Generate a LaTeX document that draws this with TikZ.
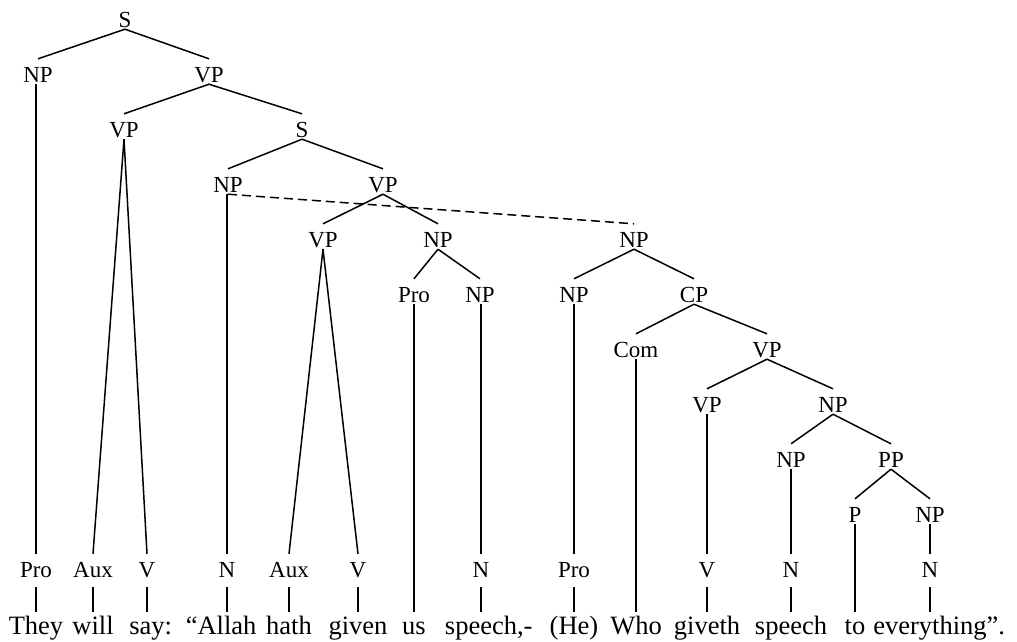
\documentclass[tikz,border=0pt]{standalone}
\usepackage{fontspec}
\setmainfont{Liberation Serif}
\begin{document}
\begin{tikzpicture}[x=1pt,y=-1pt,
  lab/.style={inner sep=0pt, anchor=base, text height=23pt, text depth=2pt, font=\fontsize{23}{27}\selectfont},
  pre/.style={lab, text depth=10pt},
  word/.style={inner sep=0pt, anchor=base, text height=22pt, text depth=0pt, font=\fontsize{26.5}{30}\selectfont},
  branch/.style={draw, line width=1.5pt},
  trace/.style={draw, line width=1.5pt, dash pattern=on 9pt off 5pt}]
\useasboundingbox (0,0) rectangle (1017,641);
% phrase labels
\node[lab] (s0) at (125,27) {S};
\node[lab] (np1) at (38,82) {NP};
\node[lab] (vp1) at (209,82) {VP};
\node[lab] (vp2) at (124,137) {VP};
\node[lab] (s2) at (302,137) {S};
\node[lab] (np3) at (228,192) {NP};
\node[lab] (vp3) at (383,192) {VP};
\node[lab] (vp4) at (323,247) {VP};
\node[lab] (np4a) at (438,247) {NP};
\node[lab] (np4b) at (634,247) {NP};
\node[lab] (pro5) at (414,302) {Pro};
\node[lab] (np5a) at (480,302) {NP};
\node[lab] (np5b) at (574,302) {NP};
\node[lab] (cp5) at (694,302) {CP};
\node[lab] (com6) at (636,357) {Com};
\node[lab] (vp6) at (767,357) {VP};
\node[lab] (vp7) at (707,412) {VP};
\node[lab] (np7) at (833,412) {NP};
\node[lab] (np8) at (791,467) {NP};
\node[lab] (pp8) at (891,467) {PP};
\node[lab] (p9) at (855,522) {P};
\node[lab] (np9) at (930,522) {NP};
% preterminals
\node[pre] (t1) at (36,577) {Pro};
\node[pre] (t2) at (93,577) {Aux};
\node[pre] (t3) at (147,577) {V};
\node[pre] (t4) at (227,577) {N};
\node[pre] (t5) at (289,577) {Aux};
\node[pre] (t6) at (358,577) {V};
\node[pre] (t7) at (481,577) {N};
\node[pre] (t8) at (574,577) {Pro};
\node[pre] (t9) at (707,577) {V};
\node[pre] (t10) at (791,577) {N};
\node[pre] (t11) at (930,577) {N};
% words
\node[word] (w1) at (36,634) {They};
\node[word] (w2) at (93,634) {will};
\node[word] (w3) at (147,634) {say\rlap{:}};
\node[word] (w4) at (227,634) {\llap{“}Allah};
\node[word] (w5) at (289,634) {hath};
\node[word] (w6) at (358,634) {given};
\node[word] (w7) at (414,634) {us};
\node[word] (w8) at (481,634) {speech\rlap{,-}};
\node[word] (w9) at (574,634) {\llap{(}He\rlap{)}};
\node[word] (w10) at (636,634) {Who};
\node[word] (w11) at (707,634) {giveth};
\node[word] (w12) at (791,634) {speech};
\node[word] (w13) at (855,634) {to};
\node[word] (w14) at (930,634) {everything\rlap{”.}};
% branches
\path[branch] (s0.south) -- (np1.north);
\path[branch] (s0.south) -- (vp1.north);
\path[branch] (t1.north |- np1.south) -- (t1.north);
\path[branch] (vp1.south) -- (vp2.north);
\path[branch] (vp1.south) -- (s2.north);
\path[branch] (vp2.south) -- (t2.north);
\path[branch] (vp2.south) -- (t3.north);
\path[branch] (s2.south) -- (np3.north);
\path[branch] (s2.south) -- (vp3.north);
\path[branch] (t4.north |- np3.south) -- (t4.north);
\path[branch] (vp3.south) -- (vp4.north);
\path[branch] (vp3.south) -- (np4a.north);
\path[branch] (vp4.south) -- (t5.north);
\path[branch] (vp4.south) -- (t6.north);
\path[branch] (np4a.south) -- (pro5.north);
\path[branch] (np4a.south) -- (np5a.north);
\path[branch] (pro5.south) -- (w7.north);
\path[branch] (t7.north |- np5a.south) -- (t7.north);
\path[branch] (np4b.south) -- (np5b.north);
\path[branch] (np4b.south) -- (cp5.north);
\path[branch] (t8.north |- np5b.south) -- (t8.north);
\path[branch] (cp5.south) -- (com6.north);
\path[branch] (cp5.south) -- (vp6.north);
\path[branch] (com6.south) -- (w10.north);
\path[branch] (vp6.south) -- (vp7.north);
\path[branch] (vp6.south) -- (np7.north);
\path[branch] (t9.north |- vp7.south) -- (t9.north);
\path[branch] (np7.south) -- (np8.north);
\path[branch] (np7.south) -- (pp8.north);
\path[branch] (t10.north |- np8.south) -- (t10.north);
\path[branch] (pp8.south) -- (p9.north);
\path[branch] (pp8.south) -- (np9.north);
\path[branch] (p9.south) -- (w13.north);
\path[branch] (t11.north |- np9.south) -- (t11.north);
% ticks to words
\foreach \t/\w in {t1/w1,t2/w2,t3/w3,t4/w4,t5/w5,t6/w6,t7/w8,t8/w9,t9/w11,t10/w12,t11/w14}
  \path[branch] (\t.south) -- (\w.north);
% trace
\path[trace] (np3.south) -- (np4b.north);
\end{tikzpicture}
\end{document}
